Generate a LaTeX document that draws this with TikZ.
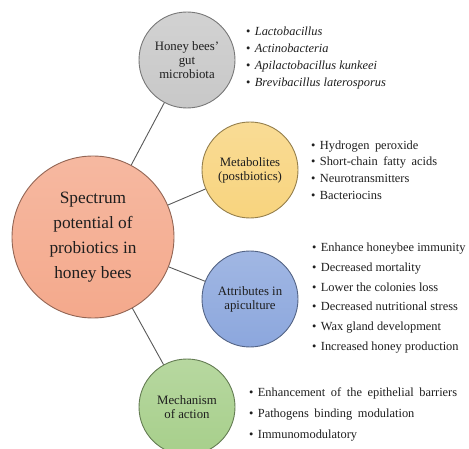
\documentclass[tikz,border=0pt]{standalone}
\usepackage{fontspec}
\setmainfont{Liberation Serif}
\usepackage{xcolor}
\usetikzlibrary{positioning}

\definecolor{hubfill}{HTML}{F4A98C}
\definecolor{gutfill}{HTML}{C8C8C8}
\definecolor{metafill}{HTML}{F8D47E}
\definecolor{attrfill}{HTML}{8CA7DD}
\definecolor{mechfill}{HTML}{A7CF8B}
\definecolor{inkgray}{HTML}{1E1E1E}

\newcommand{\widewords}{\spaceskip=0.45em\relax}
\newcommand{\bul}{\textbullet\hspace{0.35em}}

\tikzset{
  bubble/.style={circle, top color=#1!82!white, bottom color=#1, draw=#1!60!black,
    line width=0.9pt, inner sep=0pt, minimum size=96pt, align=center, text=inkgray,
    font=\fontsize{12.8}{14}\selectfont},
  hub/.style={bubble=hubfill, minimum size=162pt, font=\fontsize{17.3}{25}\selectfont},
  link/.style={draw=black!65, line width=0.9pt},
  itemlist/.style={anchor=west, align=left, inner sep=0pt, text=inkgray,
    font=\fontsize{12.4}{#1}\selectfont},
  widelist/.style={itemlist=#1, font=\fontsize{12.4}{#1}\selectfont\widewords},
}

\begin{document}
\begin{tikzpicture}[x=1pt,y=-1pt]
  \useasboundingbox (0,0) rectangle (469,449);
  \clip (0,0) rectangle (469,449);

  % Circles
  \node[hub] (spectrum) at (93,237) {Spectrum\\potential of\\probiotics in\\honey bees};
  \node[bubble=gutfill] (gut) at (187,60) {Honey bees'\\gut\\microbiota};
  \node[bubble=metafill] (meta) at (250,170) {Metabolites\\(postbiotics)};
  \node[bubble=attrfill] (attr) at (250,299) {Attributes in\\apiculture};
  \node[bubble=mechfill] (mech) at (187,407) {Mechanism\\of action};

  % Connectors
  \draw[link] (spectrum) -- (gut);
  \draw[link] (spectrum) -- (meta);
  \draw[link] (spectrum) -- (attr);
  \draw[link] (spectrum) -- (mech);

  % Lists
  \node[itemlist=17] (gutlist) at (246,58) {%
    \bul\textit{Lactobacillus}\\
    \bul\textit{Actinobacteria}\\
    \bul\textit{Apilactobacillus kunkeei}\\
    \bul\textit{Brevibacillus laterosporus}};
  \node[widelist=16.7] (metalist) at (311,170) {%
    \bul Hydrogen peroxide\\
    \bul Short-chain fatty acids\\
    \bul Neurotransmitters\\
    \bul Bacteriocins};
  \node[itemlist=19.8] (attrlist) at (312,298) {%
    \bul Enhance honeybee immunity\\
    \bul Decreased mortality\\
    \bul Lower the colonies loss\\
    \bul Decreased nutritional stress\\
    \bul Wax gland development\\
    \bul Increased honey production};
  \node[widelist=21] (mechlist) at (249,414) {%
    \bul Enhancement of the epithelial barriers\\
    \bul Pathogens binding modulation\\
    \bul Immunomodulatory};
\end{tikzpicture}
\end{document}
